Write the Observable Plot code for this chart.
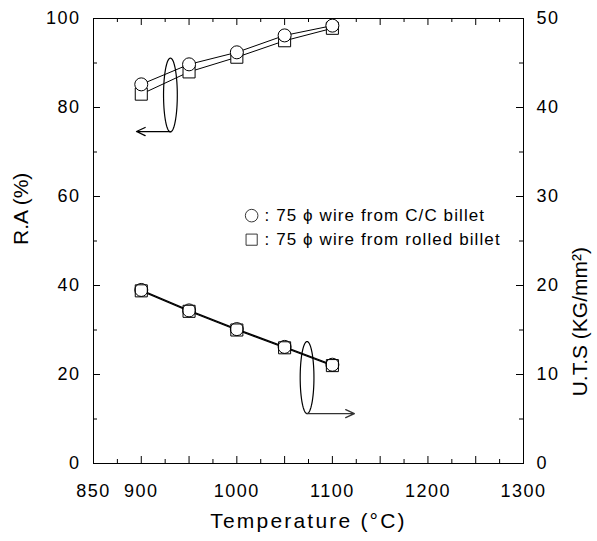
<!DOCTYPE html>
<html>
<head>
<meta charset="utf-8">
<script src="https://cdn.jsdelivr.net/npm/d3@7"></script>
<script src="https://cdn.jsdelivr.net/npm/@observablehq/plot@0.6"></script>
<style>
  html, body { margin: 0; padding: 0; background: white; }
</style>
</head>
<body>
<div id="chart"></div>
<script>
// ---- data ----
const temperatures = [900, 950, 1000, 1050, 1100];
const raCC = [85.2, 89.7, 92.4, 96.2, 98.4];        // R.A (%) — 75 φ wire from C/C billet
const raRolled = [83.0, 88.0, 91.3, 95.0, 97.8];    // R.A (%) — 75 φ wire from rolled billet
const utsCC = [19.5, 17.2, 15.1, 13.1, 11.1];       // U.T.S (KG/mm²) — C/C billet
const utsRolled = [19.4, 17.1, 15.0, 13.0, 11.0];   // U.T.S (KG/mm²) — rolled billet

const xTickLabels = [850, 900, 1000, 1100, 1200, 1300];
const xMajorTicks = [850, 900, 950, 1000, 1050, 1100, 1150, 1200, 1250, 1300];
const xMinorTicks = [875, 925, 975, 1025, 1075, 1125, 1175, 1225, 1275];
const yLeftTicks = [0, 20, 40, 60, 80, 100];
const yMinorTicks = [10, 30, 50, 70, 90];
const yRightLabels = [0, 10, 20, 30, 40, 50];

const legendSymbols = ["circle", "square"];
const legendLines = [": 75 ϕ wire from C/C billet", ": 75 ϕ wire from rolled billet"];
const xTitle = "Temperature (°C)";
const yLeftTitle = "R.A (%)";
const yRightTitle = "U.T.S (KG/mm²)";

// ---- tables ----
const ra = temperatures.flatMap((t, i) => [
  {t, v: raCC[i], s: "cc"}, {t, v: raRolled[i], s: "rolled"}
]);
const uts = temperatures.flatMap((t, i) => [
  {t, v: utsCC[i] * 2, s: "cc"}, {t, v: utsRolled[i] * 2, s: "rolled"}
]);

// annotation ellipses (center, radii in data units)
function ellipse(cx, cy, rx, ry) {
  return d3.range(0, 73).map(k => {
    const a = (k / 72) * 2 * Math.PI;
    return {t: cx + rx * Math.cos(a), v: cy + ry * Math.sin(a)};
  });
}
const ellUpper = ellipse(930.5, 82.8, 7.2, 8.3);
const ellLower = ellipse(1073.5, 19.3, 7.2, 8.1);

const W = 597, H = 541, mL = 93, mR = 74, mT = 18, mB = 78;
const plotW = W - mL - mR, plotH = H - mT - mB;
const FONT = "'Liberation Sans', Arial, Helvetica, sans-serif";
const legendY = [55.7, 50.3];

const chart = Plot.plot({
  width: W, height: H,
  marginLeft: mL, marginRight: mR, marginTop: mT, marginBottom: mB,
  x: {domain: [850, 1300], axis: null},
  y: {domain: [0, 100], axis: null},
  style: {fontFamily: FONT, fontSize: "18px", color: "black", background: "white", overflow: "visible"},
  marks: [
    Plot.frame({stroke: "black", strokeWidth: 1}),
    // inward ticks
    Plot.tickX(xMajorTicks, {x: d => d, insetTop: plotH - 7, stroke: "black"}),
    Plot.tickX(xMinorTicks, {x: d => d, insetTop: plotH - 4, stroke: "black"}),
    Plot.tickX(xMajorTicks, {x: d => d, insetBottom: plotH - 7, stroke: "black"}),
    Plot.tickX(xMinorTicks, {x: d => d, insetBottom: plotH - 4, stroke: "black"}),
    Plot.tickY(yLeftTicks, {y: d => d, insetRight: plotW - 7, stroke: "black"}),
    Plot.tickY(yMinorTicks, {y: d => d, insetRight: plotW - 4, stroke: "black"}),
    Plot.tickY(yLeftTicks, {y: d => d, insetLeft: plotW - 7, stroke: "black"}),
    Plot.tickY(yMinorTicks, {y: d => d, insetLeft: plotW - 4, stroke: "black"}),
    // axis labels
    Plot.axisX(xTickLabels, {tickSize: 0, tickPadding: 21, label: null, fontSize: 18, tickFormat: d => String(d)}),
    Plot.axisY(yLeftTicks, {anchor: "left", tickSize: 0, tickPadding: 13, label: null, fontSize: 18, tickFormat: d => String(d)}),
    Plot.axisY(yRightLabels.map(d => d * 2), {anchor: "right", tickSize: 0, tickPadding: 13, label: null, fontSize: 18,
      tickFormat: d => String(d / 2)}),
    // titles
    Plot.text([xTitle], {frameAnchor: "bottom", dy: 64, fontSize: 21}),
    Plot.text([yLeftTitle], {frameAnchor: "left", dx: -72, dy: 4, rotate: -90, fontSize: 21}),
    Plot.text([yRightTitle], {frameAnchor: "right", dx: 57, dy: 6, rotate: -90, fontSize: 21}),
    // lines
    Plot.line(ra, {x: "t", y: "v", z: "s", stroke: "black", strokeWidth: 1}),
    Plot.line(uts, {x: "t", y: "v", z: "s", stroke: "black", strokeWidth: 1.2}),
    // markers
    Plot.dot(ra.filter(d => d.s === "rolled"), {x: "t", y: "v", symbol: "square", r: 6.8, fill: "white", stroke: "black", strokeWidth: 1}),
    Plot.dot(ra.filter(d => d.s === "cc"), {x: "t", y: "v", symbol: "circle", r: 6.5, fill: "white", stroke: "black", strokeWidth: 1}),
    Plot.dot(uts.filter(d => d.s === "rolled"), {x: "t", y: "v", symbol: "square", r: 6.8, fill: "white", stroke: "black", strokeWidth: 1}),
    Plot.dot(uts.filter(d => d.s === "cc"), {x: "t", y: "v", symbol: "circle", r: 6.5, fill: "none", stroke: "black", strokeWidth: 1}),
    // ellipses and arrows
    Plot.line(ellUpper, {x: "t", y: "v", stroke: "black", strokeWidth: 1.2}),
    Plot.line(ellLower, {x: "t", y: "v", stroke: "black", strokeWidth: 1.2}),
    Plot.arrow([{x1: 930.5, y1: 74.6, x2: 895, y2: 74.6}], {x1: "x1", y1: "y1", x2: "x2", y2: "y2", stroke: "black", strokeWidth: 1.3, headLength: 11, headAngle: 50}),
    Plot.arrow([{x1: 1073.5, y1: 11.2, x2: 1123, y2: 11.2}], {x1: "x1", y1: "y1", x2: "x2", y2: "y2", stroke: "#333", strokeWidth: 1.3, headLength: 11, headAngle: 50}),
    // legend
    Plot.dot(legendSymbols, {x: 1015.5, y: (d, i) => legendY[i], symbol: d => d, r: 6.3, fill: "none", stroke: "#222", strokeWidth: 0.9}),
    Plot.text(legendLines, {x: 1029, y: (d, i) => legendY[i], textAnchor: "start", fontSize: 17})
  ]
});

// mimic the horizontally stretched lettering of the scanned original
chart.querySelectorAll("text").forEach(t => {
  const s = t.textContent;
  if (s === xTitle) t.style.letterSpacing = "2.2px";
  else if (legendLines.includes(s)) t.style.letterSpacing = "1.1px";
  else if (/^\d+$/.test(s)) t.style.letterSpacing = "1.5px";
});

document.getElementById("chart").appendChild(chart);
</script>
</body>
</html>
